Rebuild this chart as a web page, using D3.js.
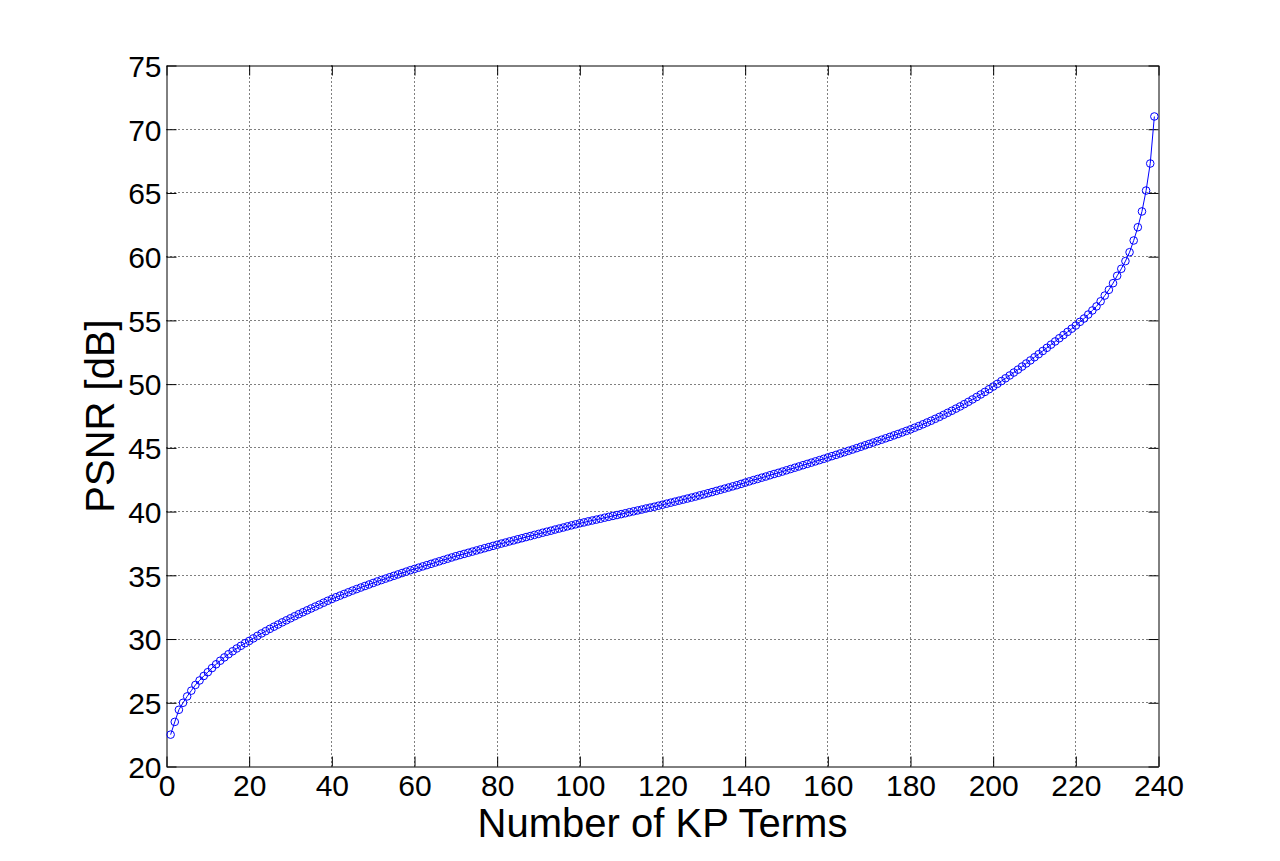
<!DOCTYPE html>
<html>
<head>
<meta charset="utf-8">
<script src="https://cdn.jsdelivr.net/npm/d3@7"></script>
<style>
  html, body { margin: 0; padding: 0; background: #ffffff; }
  svg { display: block; }
  text { font-family: "Liberation Sans", Arial, Helvetica, sans-serif; fill: #000; }
</style>
</head>
<body>
<svg id="chart" width="1280" height="861"></svg>
<script>
// ---- Data ----
const xTicks = [0, 20, 40, 60, 80, 100, 120, 140, 160, 180, 200, 220, 240];
const yTicks = [20, 25, 30, 35, 40, 45, 50, 55, 60, 65, 70, 75];
const xLabel = "Number of KP Terms";
const yLabel = "PSNR [dB]";
const psnr = [
  22.50, 23.50, 24.45, 25.00, 25.50, 25.95, 26.40, 26.75, 27.10, 27.40,
  27.72, 28.02, 28.30, 28.56, 28.81, 29.04, 29.26, 29.47, 29.67, 29.85,
  30.05, 30.25, 30.44, 30.62, 30.80, 30.97, 31.14, 31.31, 31.47, 31.63,
  31.79, 31.95, 32.10, 32.25, 32.40, 32.55, 32.70, 32.85, 33.00, 33.14,
  33.28, 33.41, 33.54, 33.67, 33.80, 33.92, 34.04, 34.16, 34.28, 34.40,
  34.52, 34.63, 34.74, 34.85, 34.96, 35.07, 35.18, 35.29, 35.40, 35.50,
  35.60, 35.70, 35.80, 35.90, 36.00, 36.10, 36.20, 36.30, 36.40, 36.50,
  36.59, 36.68, 36.77, 36.86, 36.95, 37.04, 37.13, 37.22, 37.31, 37.40,
  37.49, 37.57, 37.66, 37.74, 37.83, 37.91, 38.00, 38.08, 38.17, 38.25,
  38.34, 38.42, 38.50, 38.59, 38.67, 38.75, 38.84, 38.92, 39.00, 39.08,
  39.15, 39.23, 39.30, 39.37, 39.44, 39.52, 39.59, 39.66, 39.73, 39.80,
  39.87, 39.95, 40.02, 40.09, 40.16, 40.24, 40.31, 40.38, 40.46, 40.54,
  40.62, 40.70, 40.78, 40.86, 40.94, 41.02, 41.10, 41.18, 41.27, 41.35,
  41.44, 41.53, 41.62, 41.71, 41.80, 41.89, 41.98, 42.07, 42.17, 42.27,
  42.37, 42.47, 42.56, 42.66, 42.75, 42.85, 42.95, 43.04, 43.14, 43.24,
  43.34, 43.44, 43.54, 43.64, 43.74, 43.84, 43.94, 44.04, 44.14, 44.25,
  44.35, 44.45, 44.56, 44.66, 44.77, 44.87, 44.98, 45.09, 45.20, 45.31,
  45.42, 45.53, 45.64, 45.75, 45.86, 45.98, 46.09, 46.21, 46.33, 46.45,
  46.58, 46.71, 46.85, 46.99, 47.13, 47.28, 47.43, 47.59, 47.75, 47.91,
  48.08, 48.25, 48.43, 48.61, 48.80, 48.99, 49.19, 49.39, 49.60, 49.81,
  50.02, 50.24, 50.46, 50.68, 50.91, 51.14, 51.38, 51.62, 51.86, 52.11,
  52.35, 52.60, 52.85, 53.10, 53.35, 53.60, 53.85, 54.10, 54.35, 54.60,
  54.89, 55.15, 55.46, 55.78, 56.10, 56.50, 56.95, 57.40, 57.92, 58.50,
  59.05, 59.65, 60.35, 61.27, 62.31, 63.55, 65.19, 67.31, 71.00
];
const terms = psnr.map((_, i) => i + 1);

// ---- Layout ----
const plotL = 166.5, plotR = 1158.5, plotT = 65.5, plotB = 766.5;
const svg = d3.select("#chart");

const x = d3.scaleLinear().domain([0, 240]).range([plotL, plotR]);
const y = d3.scaleLinear().domain([20, 75]).range([plotB, plotT]);
const crisp = v => Math.round(v - 0.5) + 0.5;

// Grid (dotted, pixel-snapped)
const grid = svg.append("g");
grid.selectAll("line.gx").data(xTicks.slice(1, -1)).join("line")
  .attr("x1", d => crisp(x(d))).attr("x2", d => crisp(x(d)))
  .attr("y1", plotT).attr("y2", plotB)
  .attr("stroke", "#000").attr("stroke-width", 1).attr("stroke-dasharray", "1,3");
grid.selectAll("line.gy").data(yTicks.slice(1, -1)).join("line")
  .attr("y1", d => crisp(y(d))).attr("y2", d => crisp(y(d)))
  .attr("x1", plotL).attr("x2", plotR)
  .attr("stroke", "#000").attr("stroke-width", 1).attr("stroke-dasharray", "1,3");

// Axes (ticks inward, MATLAB style)
const tickLen = 10;
const xAxisB = d3.axisBottom(x).tickValues(xTicks).tickSizeInner(-tickLen).tickSizeOuter(0).tickPadding(16);
const xAxisT = d3.axisTop(x).tickValues(xTicks).tickSizeInner(-tickLen).tickSizeOuter(0).tickFormat("");
const yAxisL = d3.axisLeft(y).tickValues(yTicks).tickSizeInner(-tickLen).tickSizeOuter(0).tickPadding(16);
const yAxisR = d3.axisRight(y).tickValues(yTicks).tickSizeInner(-tickLen).tickSizeOuter(0).tickFormat("");

function style(g) {
  g.selectAll("path.domain").attr("stroke", "#000").attr("stroke-width", 1);
  g.selectAll(".tick line").attr("stroke", "#000").attr("stroke-width", 1);
  g.selectAll(".tick text").attr("font-family", "Liberation Sans, Arial, sans-serif")
    .attr("font-size", 30).attr("fill", "#000");
}

const gB = svg.append("g").attr("transform", `translate(0,${plotB})`).call(xAxisB).call(style);
gB.selectAll(".tick text").attr("dy", null).attr("y", 29);
svg.append("g").attr("transform", `translate(0,${plotT})`).call(xAxisT).call(style);
const gL = svg.append("g").attr("transform", `translate(${plotL},0)`).call(yAxisL).call(style);
gL.selectAll(".tick text").attr("x", -5).attr("dy", "0.36em");
svg.append("g").attr("transform", `translate(${plotR},0)`).call(yAxisR).call(style);

// Data line + circle markers
const line = d3.line().x((d, i) => x(terms[i])).y(d => y(d));
svg.append("path").datum(psnr)
  .attr("d", line).attr("fill", "none").attr("stroke", "#0000ff").attr("stroke-width", 1);
svg.append("g").selectAll("circle").data(psnr).join("circle")
  .attr("cx", (d, i) => x(terms[i])).attr("cy", d => y(d)).attr("r", 3.8)
  .attr("fill", "none").attr("stroke", "#0000ff").attr("stroke-width", 1);

// Axis titles
svg.append("text").attr("x", (plotL + plotR) / 2).attr("y", 837)
  .attr("text-anchor", "middle").attr("font-size", 40).text(xLabel);
svg.append("text")
  .attr("transform", `translate(114,${(plotT + plotB) / 2}) rotate(-90)`)
  .attr("text-anchor", "middle").attr("font-size", 40).text(yLabel);
</script>
</body>
</html>
